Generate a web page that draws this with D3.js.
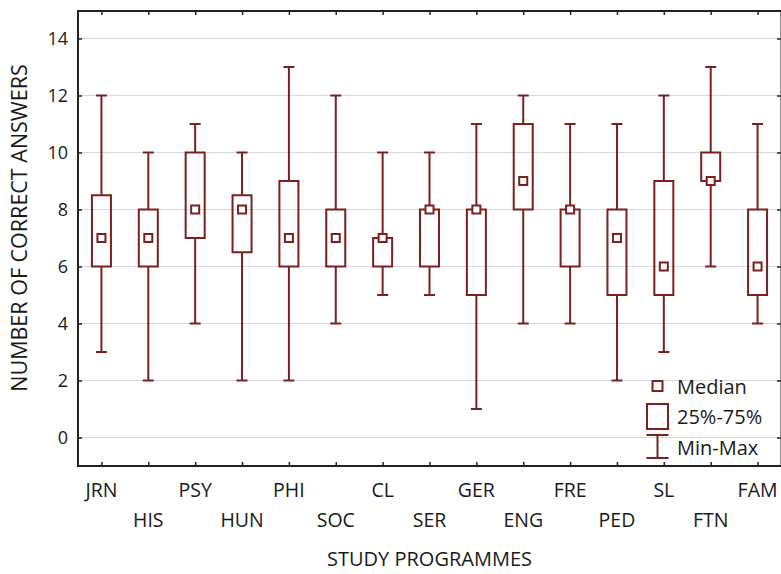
<!DOCTYPE html>
<html>
<head>
<meta charset="utf-8">
<script src="https://cdn.jsdelivr.net/npm/d3@7"></script>
<style>
  html, body { margin: 0; padding: 0; background: #fff; }
  svg { display: block; }
  text { font-family: "Open Sans", "Noto Sans", sans-serif; fill: #1a1a1a; }
</style>
</head>
<body>
<svg id="chart" width="781" height="574"></svg>
<script>
// ---- Data ----
const categories = ["JRN","HIS","PSY","HUN","PHI","SOC","CL","SER","GER","ENG","FRE","PED","SL","FTN","FAM"];
const minVals    = [3, 2, 4, 2,   2, 4, 5, 5, 1, 4, 4, 2, 3, 6, 4];
const q1Vals     = [6, 6, 7, 6.5, 6, 6, 6, 6, 5, 8, 6, 5, 5, 9, 5];
const medianVals = [7, 7, 8, 8,   7, 7, 7, 8, 8, 9, 8, 7, 6, 9, 6];
const q3Vals     = [8.5, 8, 10, 8.5, 9, 8, 7, 8, 8, 11, 8, 8, 9, 10, 8];
const maxVals    = [12, 10, 11, 10, 13, 12, 10, 10, 11, 12, 11, 11, 12, 13, 11];
const yTicks     = [0, 2, 4, 6, 8, 10, 12, 14];
const yLabel = "NUMBER OF CORRECT ANSWERS";
const xLabel = "STUDY PROGRAMMES";
const legendLabels = ["Median", "25%-75%", "Min-Max"];

// ---- Layout ----
const pLeft = 78, pRight = 781, pTop = 10, pBottom = 466;
const col = "#7b1f1f";
const svg = d3.select("#chart");

const x = d3.scalePoint().domain(categories).range([pLeft, pRight]).padding(0.5);
const y = d3.scaleLinear().domain([-1, 15]).range([pBottom, pTop]);

// gridlines
svg.append("g").selectAll("line").data(yTicks).join("line")
  .attr("x1", pLeft).attr("x2", pRight)
  .attr("y1", d => y(d)).attr("y2", d => y(d))
  .attr("stroke", "#d9d9d9").attr("stroke-width", 1.2);

// axes
const axisStyle = g => {
  g.select(".domain").attr("stroke", "#222").attr("stroke-width", 2);
  g.selectAll(".tick line").attr("stroke", "#222").attr("stroke-width", 1.5);
};
const gl = svg.append("g").attr("transform", `translate(${pLeft},0)`)
  .call(d3.axisLeft(y).tickValues(yTicks).tickSizeInner(-4).tickSizeOuter(0).tickPadding(10));
axisStyle(gl);
gl.select(".domain").attr("d", `M0,${pTop + 1}V${pBottom}`);
gl.selectAll(".tick text").attr("font-size", 18).attr("fill", "#1a1a1a")
  .style("font-family", "'Open Sans', 'Noto Sans', sans-serif");

const gr = svg.append("g").attr("transform", `translate(${pRight},0)`)
  .call(d3.axisRight(y).tickValues(yTicks).tickSizeInner(-4).tickSizeOuter(0).tickFormat(""));
axisStyle(gr);

const gb = svg.append("g").attr("transform", `translate(0,${pBottom})`)
  .call(d3.axisBottom(x).tickSizeInner(-4).tickSizeOuter(0).tickFormat(""));
axisStyle(gb);
gb.select(".domain").attr("d", `M${pLeft - 1},0H${pRight}`);

const gt = svg.append("g").attr("transform", `translate(0,${pTop + 1})`)
  .call(d3.axisTop(x).tickSizeInner(-4).tickSizeOuter(0).tickFormat(""));
axisStyle(gt);
gt.select(".domain").attr("d", `M${pLeft - 1},0H${pRight}`);

// x labels (alternating rows)
svg.append("g").selectAll("text").data(categories).join("text")
  .attr("x", d => x(d))
  .attr("y", (d, i) => i % 2 === 0 ? 497 : 527)
  .attr("text-anchor", "middle")
  .attr("font-size", 19.5)
  .text(d => d);

// axis titles
svg.append("text").attr("x", (pLeft + pRight) / 2).attr("y", 566)
  .attr("text-anchor", "middle").attr("font-size", 20).text(xLabel);
svg.append("text").attr("transform", "translate(27,228) rotate(-90)")
  .attr("text-anchor", "middle").attr("font-size", 21.5).text(yLabel);

// boxes
const boxW = 19, capW = 11, medS = 8;
const data = categories.map((c, i) => ({
  c, min: minVals[i], q1: q1Vals[i], med: medianVals[i], q3: q3Vals[i], max: maxVals[i]
}));
const g = svg.append("g").attr("fill", "none").attr("stroke", col).attr("stroke-width", 2);
const b = g.selectAll("g").data(data).join("g");
b.append("line").attr("x1", d => x(d.c)).attr("x2", d => x(d.c))
  .attr("y1", d => y(d.max)).attr("y2", d => y(d.q3));
b.append("line").attr("x1", d => x(d.c)).attr("x2", d => x(d.c))
  .attr("y1", d => y(d.q1)).attr("y2", d => y(d.min));
b.append("line").attr("x1", d => x(d.c) - capW / 2).attr("x2", d => x(d.c) + capW / 2)
  .attr("y1", d => y(d.max)).attr("y2", d => y(d.max));
b.append("line").attr("x1", d => x(d.c) - capW / 2).attr("x2", d => x(d.c) + capW / 2)
  .attr("y1", d => y(d.min)).attr("y2", d => y(d.min));
b.append("rect").attr("x", d => x(d.c) - boxW / 2).attr("width", boxW)
  .attr("y", d => y(d.q3)).attr("height", d => y(d.q1) - y(d.q3))
  .attr("fill", "none");
b.append("rect").attr("x", d => x(d.c) - medS / 2).attr("width", medS)
  .attr("y", d => y(d.med) - medS / 2).attr("height", medS)
  .attr("fill", "#fff");

// legend
const lg = svg.append("g");
const lx = 657.5;
lg.append("rect").attr("x", lx - 5).attr("y", 381).attr("width", 10).attr("height", 10)
  .attr("fill", "none").attr("stroke", col).attr("stroke-width", 2);
lg.append("rect").attr("x", lx - 10.5).attr("y", 404).attr("width", 21).attr("height", 25)
  .attr("fill", "none").attr("stroke", col).attr("stroke-width", 2);
lg.append("line").attr("x1", lx).attr("x2", lx).attr("y1", 435).attr("y2", 458)
  .attr("stroke", col).attr("stroke-width", 2);
lg.append("line").attr("x1", lx - 11).attr("x2", lx + 11).attr("y1", 435).attr("y2", 435)
  .attr("stroke", col).attr("stroke-width", 2);
lg.append("line").attr("x1", lx - 11).attr("x2", lx + 11).attr("y1", 458).attr("y2", 458)
  .attr("stroke", col).attr("stroke-width", 2);
lg.selectAll("text").data(legendLabels).join("text")
  .attr("x", 677).attr("y", (d, i) => [394, 424, 455][i])
  .attr("font-size", 20).text(d => d);
</script>
</body>
</html>
